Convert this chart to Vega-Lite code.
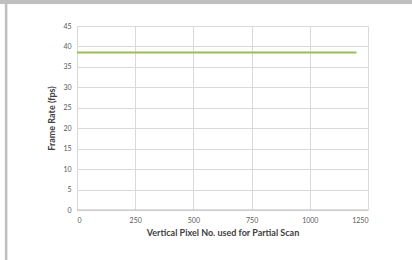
{
  "$schema": "https://vega.github.io/schema/vega-lite/v6.json",
  "width": 291,
  "height": 184,
  "autosize": {"type": "none"},
  "padding": {"left": 77, "top": 26, "right": 44, "bottom": 50},
  "background": "white",
  "config": {
    "view": {"stroke": null},
    "axis": {
      "labelFont": "Lato",
      "titleFont": "Lato",
      "labelFontSize": 7,
      "labelColor": "#595959",
      "titleColor": "#404040",
      "titleFontSize": 9,
      "titleFontWeight": "bold",
      "gridColor": "#d9d9d9",
      "gridWidth": 1,
      "domain": false,
      "ticks": false,
      "labelOverlap": false,
      "labelPadding": 6
    }
  },
  "layer": [
    {
      "data": {"values": [
        {"pixels": 0, "fps": 38.5},
        {"pixels": 200, "fps": 38.5},
        {"pixels": 400, "fps": 38.5},
        {"pixels": 600, "fps": 38.5},
        {"pixels": 800, "fps": 38.5},
        {"pixels": 1000, "fps": 38.5},
        {"pixels": 1200, "fps": 38.5}
      ]},
      "mark": {"type": "line", "color": "#9bbb59", "strokeWidth": 2},
      "encoding": {
        "x": {
          "field": "pixels", "type": "quantitative",
          "scale": {"domain": [0, 1250], "nice": false},
          "axis": {"values": [0, 250, 500, 750, 1000, 1250], "format": "d", "titlePadding": 5, "title": "Vertical Pixel No. used for Partial Scan"}
        },
        "y": {
          "field": "fps", "type": "quantitative",
          "scale": {"domain": [0, 45], "nice": false},
          "axis": {"values": [0, 5, 10, 15, 20, 25, 30, 35, 40, 45], "format": "d", "titlePadding": 6, "title": "Frame Rate (fps)"}
        }
      }
    },
    {
      "data": {"values": [{"x0": -310, "x1": -299, "y0": -12.3, "y1": 51.4}, {"x0": -331, "x1": 1440, "y0": 50.4, "y1": 51.4}]},
      "mark": {"type": "rect", "color": "#bfbfbf", "clip": false},
      "encoding": {
        "x": {"field": "x0", "type": "quantitative", "axis": {"values": [0, 250, 500, 750, 1000, 1250], "format": "d", "titlePadding": 5, "title": "Vertical Pixel No. used for Partial Scan"}},
        "x2": {"field": "x1"},
        "y": {"field": "y0", "type": "quantitative", "axis": {"values": [0, 5, 10, 15, 20, 25, 30, 35, 40, 45], "format": "d", "titlePadding": 6, "title": "Frame Rate (fps)"}},
        "y2": {"field": "y1"}
      }
    },
    {
      "data": {"values": [{"v": 0}]},
      "mark": {"type": "rule", "color": "#bfbfbf"},
      "encoding": {"y": {"field": "v", "type": "quantitative", "axis": {"values": [0, 5, 10, 15, 20, 25, 30, 35, 40, 45], "format": "d", "titlePadding": 6, "title": "Frame Rate (fps)"}}}
    }
  ]
}
